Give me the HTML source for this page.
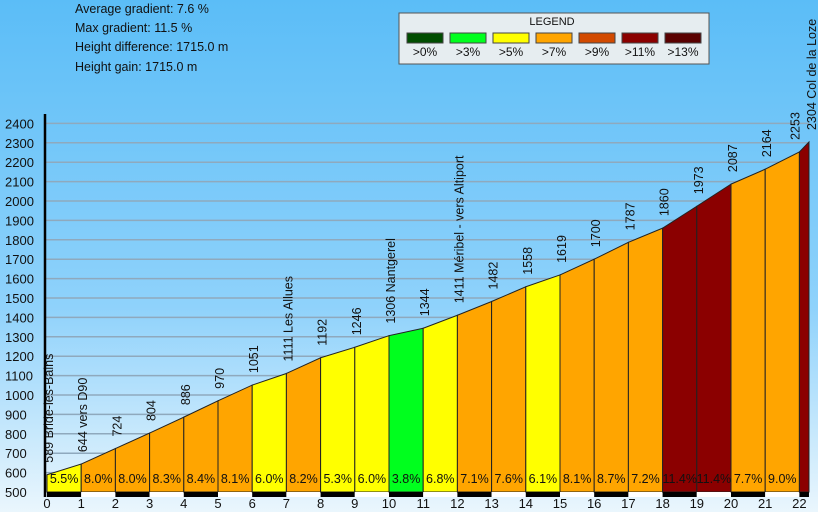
<!DOCTYPE html>
<html><head><meta charset="utf-8"><style>
body{margin:0;width:818px;height:512px;overflow:hidden;font-family:"Liberation Sans",sans-serif}
svg{display:block}
</style></head><body>
<svg id="chart" width="818" height="512" xmlns="http://www.w3.org/2000/svg" font-family="Liberation Sans, sans-serif">
<defs><linearGradient id="bg" x1="0" y1="0" x2="0" y2="1"><stop offset="0" stop-color="#5bbdf7"/><stop offset="0.6" stop-color="#8fd2fb"/><stop offset="1" stop-color="#eaf6fd"/></linearGradient></defs>
<rect width="818" height="512" fill="url(#bg)"/>
<g font-size="12.5" fill="#111">
<text x="75" y="13">Average gradient: 7.6 %</text>
<text x="75" y="32">Max gradient: 11.5 %</text>
<text x="75" y="51">Height difference: 1715.0 m</text>
<text x="75" y="71">Height gain: 1715.0 m</text>
</g>
<g id="legend">
<rect x="399" y="13" width="310" height="51" fill="#e6edf0" stroke="#555"/>
<text x="552" y="25" font-size="11" text-anchor="middle" fill="#111">LEGEND</text>
</g>
<g id="grid"></g><g id="areas"></g><g id="labels"></g><g id="axes"></g>
</svg>
<script>
const dists=[0,1,2,3,4,5,6,7,8,9,10,11,12,13,14,15,16,17,18,19,20,21,22,22.28];
const heights=[589,644,724,804,886,970,1051,1111,1192,1246,1306,1344,1411,1482,1558,1619,1700,1787,1860,1973,2087,2164,2253,2304];
const gradients=[5.5,8.0,8.0,8.3,8.4,8.1,6.0,8.2,5.3,6.0,3.8,6.8,7.1,7.6,6.1,8.1,8.7,7.2,11.4,11.4,7.7,9.0,11.5];
const names=["Bride-les-Bains","vers D90","","","","","","Les Allues","","","Nantgerel","","Méribel - vers Altiport","","","","","","","","","","","Col de la Loze"];
const yTicks=[500,600,700,800,900,1000,1100,1200,1300,1400,1500,1600,1700,1800,1900,2000,2100,2200,2300,2400];
const xTicks=[0,1,2,3,4,5,6,7,8,9,10,11,12,13,14,15,16,17,18,19,20,21,22];
const legendLabels=[">0%",">3%",">5%",">7%",">9%",">11%",">13%"];
const legendColors=["#004d00","#00ff1e","#ffff00","#ffa500","#d24a00","#8b0000","#5a0000"];
const NS="http://www.w3.org/2000/svg";
const X=d=>47+d*34.2, Y=h=>492-(h-500)*0.194;
function col(g){return g>13?legendColors[6]:g>11?legendColors[5]:g>9?legendColors[4]:g>7?legendColors[3]:g>5?legendColors[2]:g>3?legendColors[1]:legendColors[0];}
function mk(t,a,p){const e=document.createElementNS(NS,t);for(const k in a)e.setAttribute(k,a[k]);p.appendChild(e);return e;}
const lg=document.getElementById('legend');
legendLabels.forEach((l,i)=>{const x=407+i*43;
 const r=mk('rect',{x:x,y:33,width:36,height:10,fill:legendColors[i],stroke:'#444'},lg);
 
 
 const t=mk('text',{x:x+18,y:56,'font-size':12,'text-anchor':'middle',fill:'#111'},lg);t.textContent=l;
 
 });
const grid=document.getElementById('grid'),axes=document.getElementById('axes'),areas=document.getElementById('areas'),labels=document.getElementById('labels');
yTicks.forEach(v=>{
 if(v>500){const l=mk('line',{x1:45,x2:809,y1:Y(v),y2:Y(v),stroke:'#8fa9bd','stroke-width':1.5},grid);
 
 }
 const t=mk('text',{x:5,y:Y(v)+5,'font-size':13,fill:'#111'},axes);t.textContent=v;
 
 });
for(let i=0;i<gradients.length;i++){
 const x0=X(dists[i]),x1=X(dists[i+1]);
 const p=mk('polygon',{points:`${x0},492 ${x0},${Y(heights[i])} ${x1},${Y(heights[i+1])} ${x1},492`,fill:col(gradients[i]),stroke:'#222','stroke-width':1},areas);
 
 
 if(i<gradients.length-1){const t=mk('text',{x:(x0+x1)/2,y:483,'font-size':12.5,'text-anchor':'middle',fill:'#111'},labels);t.textContent=gradients[i].toFixed(1)+'%';
 
 }
 const b=mk('rect',{x:x0,y:492,width:x1-x0,height:5,fill:i%2==0?'#000':'#fff'},areas);
 
 
}
const n=heights.length;
heights.forEach((h,i)=>{
 let x=X(dists[i])+6;
 if(i==n-2)x=X(dists[i])+0;
 if(i==n-1)x=X(dists[i])+7;
 const y=Y(h)-12;
 const t=mk('text',{x:0,y:0,'font-size':12.5,fill:'#111',transform:`translate(${x},${y}) rotate(-90)`},labels);
 t.setAttribute('xml:space','preserve');
 t.textContent=h+(names[i]?'   '+names[i]:'');
 
 });
const ax=mk('line',{x1:45,x2:45,y1:114,y2:497,stroke:'#000','stroke-width':2.5},axes);


xTicks.forEach(v=>{const t=mk('text',{x:X(v),y:508,'font-size':13,'text-anchor':'middle',fill:'#111'},axes);t.textContent=v;
 
 });
</script>
</body></html>
